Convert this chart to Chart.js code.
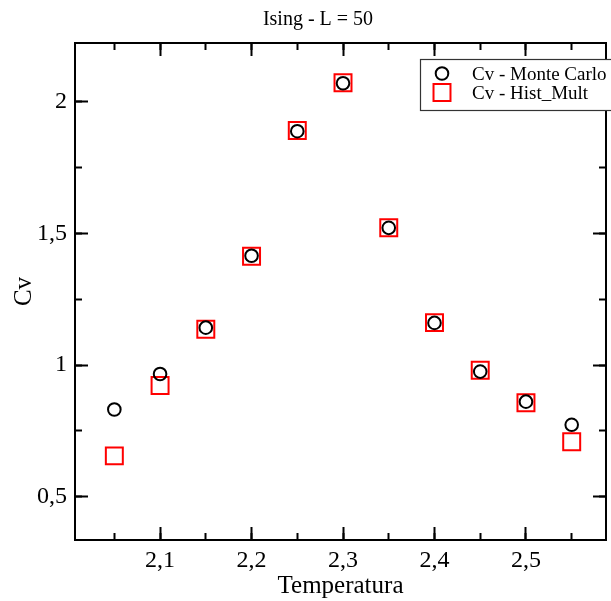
<!DOCTYPE html>
<html>
<head>
<meta charset="utf-8">
<title>Ising - L = 50</title>
<script src="https://cdn.jsdelivr.net/npm/chart.js@4"></script>
<style>
    html, body { margin: 0; padding: 0; background: #fff; }
    #wrap { width: 611px; height: 601px; }
</style>
</head>
<body>
<div id="wrap"><canvas id="cvChart" width="611" height="601"></canvas></div>
<script>
// --- DATA ---
const chartTitle = 'Ising - L = 50';
const temperatures = [2.05, 2.10, 2.15, 2.20, 2.25, 2.30, 2.35, 2.40, 2.45, 2.50, 2.55];
const cvMonteCarlo = [0.831, 0.966, 1.142, 1.415, 1.888, 2.070, 1.521, 1.160, 0.975, 0.861, 0.773];
const cvHistMult   = [0.655, 0.922, 1.136, 1.413, 1.891, 2.072, 1.521, 1.161, 0.980, 0.857, 0.709];
const seriesNames = ['Cv - Monte Carlo', 'Cv - Hist_Mult'];
const xTickValues = [2.1, 2.2, 2.3, 2.4, 2.5];
const yTickValues = [0.5, 1, 1.5, 2];
const xRange = [2.007, 2.5875];
const yRange = [0.3355, 2.223];

const SERIF = '"Liberation Serif", "Times New Roman", serif';

// 2.1 -> "2,1", 1 -> "1"
const fmt = v => String(Math.round(v * 100) / 100).replace('.', ',');

const tickGrid = len => ({
    display: true, drawOnChartArea: false, drawTicks: true,
    tickLength: -len, tickWidth: 2, tickColor: '#000'
});

const fixedTicks = values => axis => { axis.ticks = values.map(v => ({ value: v })); };

// keep the plot frame where it is: no label overhang padding
const fitX = h => axis => { axis.height = h; axis.paddingLeft = 0; axis.paddingRight = 0; };
const fitY = w => axis => { axis.width = w; axis.paddingTop = 0; axis.paddingBottom = 0; };

// extra axes only carry tick marks (minor ticks and the mirrored top/right ones)
const markAxis = (position, range, opts) => Object.assign({
    type: 'linear', position, min: range[0], max: range[1], weight: 0,
    grid: tickGrid(7),
    border: { display: false },
    ticks: { callback: () => '', autoSkip: false, includeBounds: false, maxRotation: 0 },
    afterFit: (position === 'top' || position === 'bottom') ? fitX(0) : fitY(0)
}, opts);

const minorTicks = step => ({ stepSize: step, callback: () => '', autoSkip: false, includeBounds: false, maxRotation: 0 });

const titlePlugin = {
    id: 'graceTitle',
    afterDraw(chart) {
        const ctx = chart.ctx;
        ctx.save();
        ctx.font = '20px ' + SERIF;
        ctx.fillStyle = '#000';
        ctx.textAlign = 'center';
        ctx.textBaseline = 'alphabetic';
        ctx.fillText(chartTitle, 318, 25);
        ctx.restore();
    }
};

const legendPlugin = {
    id: 'boxLegend',
    afterDraw(chart) {
        const ctx = chart.ctx;
        ctx.save();
        ctx.fillStyle = '#fff';
        ctx.fillRect(420, 59, 200, 52);
        ctx.strokeStyle = '#333';
        ctx.lineWidth = 1.2;
        ctx.strokeRect(420.5, 59.5, 200, 51);
        ctx.font = '19px ' + SERIF;
        ctx.textBaseline = 'alphabetic';
        ctx.textAlign = 'left';
        chart.data.datasets.forEach((ds, i) => {
            const cy = 73.5 + i * 19;
            ctx.strokeStyle = ds.borderColor;
            ctx.lineWidth = ds.borderWidth;
            ctx.beginPath();
            if (ds.pointStyle === 'circle') {
                ctx.arc(442, cy, ds.pointRadius, 0, Math.PI * 2);
            } else {
                const s = ds.pointRadius * Math.SQRT1_2;
                ctx.rect(442 - s, cy - s, 2 * s, 2 * s);
            }
            ctx.stroke();
            ctx.fillStyle = '#000';
            ctx.fillText(ds.label, 472, cy + 6.5);
        });
        ctx.restore();
    }
};

const ctx = document.getElementById('cvChart').getContext('2d');
new Chart(ctx, {
    type: 'scatter',
    data: {
        datasets: [
            {
                label: seriesNames[0],
                data: temperatures.map((t, i) => ({ x: t, y: cvMonteCarlo[i] })),
                pointStyle: 'circle', pointRadius: 6.3, pointHoverRadius: 6.3,
                borderColor: '#000', borderWidth: 2, backgroundColor: 'rgba(0,0,0,0)',
                showLine: false
            },
            {
                label: seriesNames[1],
                data: temperatures.map((t, i) => ({ x: t, y: cvHistMult[i] })),
                pointStyle: 'rect', pointRadius: 12, pointHoverRadius: 12,
                borderColor: '#ff0000', borderWidth: 2, backgroundColor: 'rgba(0,0,0,0)',
                showLine: false
            }
        ]
    },
    options: {
        responsive: false,
        animation: false,
        devicePixelRatio: 1,
        layout: { autoPadding: false, padding: { top: 43, right: 5, bottom: 0, left: 0 } },
        plugins: { legend: { display: false }, title: { display: false }, tooltip: { enabled: false } },
        scales: {
            x: {
                type: 'linear', position: 'bottom', weight: 1,
                min: xRange[0], max: xRange[1],
                afterBuildTicks: fixedTicks(xTickValues),
                afterFit: fitX(61),
                grid: tickGrid(13),
                border: { display: true, color: '#000', width: 2 },
                ticks: { callback: v => fmt(v), color: '#000', font: { family: SERIF, size: 24 }, padding: 19, maxRotation: 0, autoSkip: false },
                title: { display: true, text: 'Temperatura', color: '#000', font: { family: SERIF, size: 25 }, padding: { top: 0, bottom: 0 } }
            },
            xMinor: markAxis('bottom', xRange, { ticks: minorTicks(0.05) }),
            xTop: markAxis('top', xRange, {
                afterBuildTicks: fixedTicks(xTickValues), grid: tickGrid(13),
                border: { display: true, color: '#000', width: 2 }
            }),
            xTopMinor: markAxis('top', xRange, { ticks: minorTicks(0.05) }),
            y: {
                type: 'linear', position: 'left', weight: 1,
                min: yRange[0], max: yRange[1],
                afterBuildTicks: fixedTicks(yTickValues),
                afterFit: fitY(75),
                grid: tickGrid(13),
                border: { display: true, color: '#000', width: 2 },
                ticks: { callback: v => fmt(v), color: '#000', font: { family: SERIF, size: 24 }, padding: 21, autoSkip: false },
                title: { display: true, text: 'Cv', color: '#000', font: { family: SERIF, size: 25 }, padding: { top: 9, bottom: 0 } }
            },
            yMinor: markAxis('left', yRange, { ticks: minorTicks(0.25) }),
            yRight: markAxis('right', yRange, {
                afterBuildTicks: fixedTicks(yTickValues), grid: tickGrid(13),
                border: { display: true, color: '#000', width: 2 }
            }),
            yRightMinor: markAxis('right', yRange, { ticks: minorTicks(0.25) })
        }
    },
    plugins: [titlePlugin, legendPlugin]
});
</script>
</body>
</html>
